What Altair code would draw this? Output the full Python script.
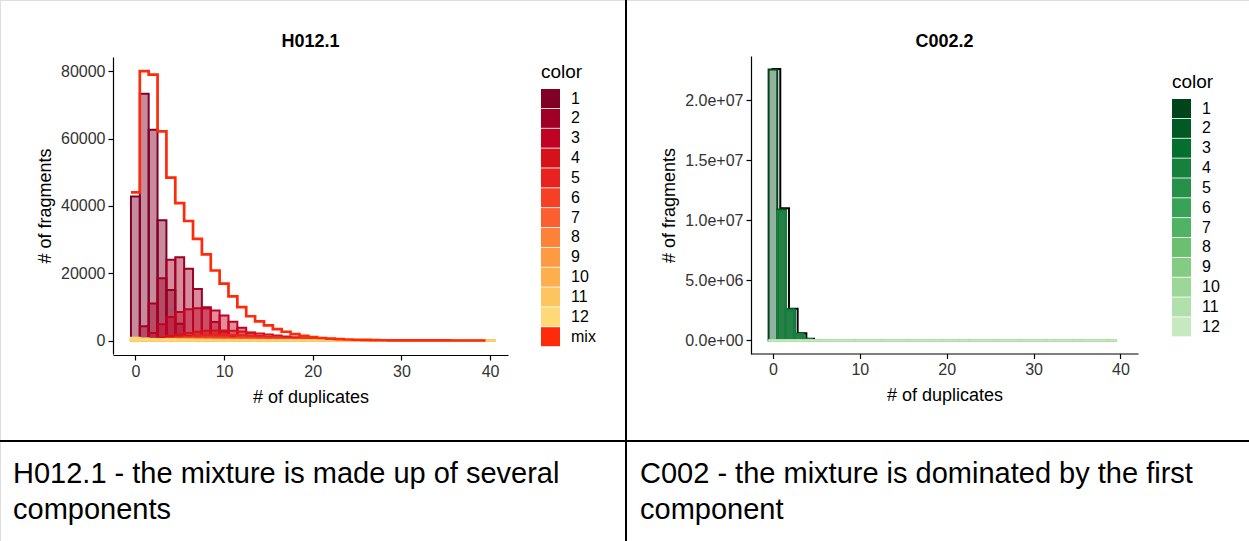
import altair as alt
import pandas as pd

FONT = "Liberation Sans"

# ---------------- data: H012.1 (left panel) ----------------
dup_left = list(range(41))  # # of duplicates, bins 0..40
h_c1 = [42800, 73300, 62600, 35700, 15000, 5000, 1300, 300, 60, 10,
        0, 0, 0, 0, 0, 0, 0, 0, 0, 0, 0, 0, 0, 0, 0, 0, 0, 0, 0, 0,
        0, 0, 0, 0, 0, 0, 0, 0, 0, 0, 0]
h_c2 = [600, 4200, 11000, 18500, 24000, 24700, 21300, 15300, 9900, 5500,
        2700, 1200, 500, 180, 60, 20, 5, 0, 0, 0, 0, 0, 0, 0, 0, 0, 0, 0, 0, 0,
        0, 0, 0, 0, 0, 0, 0, 0, 0, 0, 0]
h_c3 = [100, 600, 2200, 4800, 7000, 8500, 9300, 9600, 9500, 8900,
        7400, 5600, 3800, 2300, 1300, 650, 300, 120, 40, 10, 0, 0, 0, 0, 0, 0, 0, 0, 0, 0,
        0, 0, 0, 0, 0, 0, 0, 0, 0, 0, 0]
h_c4 = [0, 100, 400, 900, 1400, 1800, 2200, 2600, 2900, 3000,
        3000, 2900, 2700, 2400, 2100, 1800, 1500, 1200, 950, 700,
        520, 380, 270, 190, 130, 90, 60, 40, 25, 15, 10, 6, 4, 2, 1, 0, 0, 0, 0, 0, 0]
h_c5 = [0, 50, 200, 450, 700, 950, 1200, 1400, 1550, 1650,
        1700, 1650, 1550, 1400, 1250, 1100, 950, 800, 650, 520,
        400, 300, 220, 160, 110, 75, 50, 30, 20, 12, 7, 4, 2, 1, 0, 0, 0, 0, 0, 0, 0]
h_c6 = [30, 150, 300, 450, 600, 700, 800, 850, 900, 900,
        880, 850, 800, 740, 680, 610, 540, 470, 400, 340,
        280, 230, 180, 140, 110, 80, 60, 45, 30, 20, 14, 9, 6, 4, 2, 1, 0, 0, 0, 0, 0]
h_c7 = [100, 250, 350, 420, 470, 500, 510, 500, 480, 460,
        430, 400, 370, 340, 300, 270, 240, 210, 180, 150,
        125, 100, 80, 62, 48, 36, 27, 20, 14, 10, 7, 5, 3, 2, 1, 0, 0, 0, 0, 0, 0]
h_c8 = [150, 280, 330, 350, 350, 340, 330, 310, 290, 270,
        250, 230, 210, 190, 170, 150, 130, 115, 100, 85,
        72, 60, 50, 41, 33, 27, 21, 17, 13, 10, 8, 6, 4, 3, 2, 1, 1, 0, 0, 0, 0]
h_c9 = [250, 330, 330, 310, 290, 270, 250, 230, 210, 190,
        175, 160, 145, 130, 118, 105, 95, 84, 74, 65,
        57, 50, 43, 37, 32, 27, 23, 19, 16, 13, 11, 9, 7, 6, 5, 4, 3, 2, 2, 1, 1]
h_c10 = [400, 420, 380, 340, 300, 270, 240, 215, 190, 170,
         150, 133, 118, 104, 92, 81, 71, 63, 55, 48,
         42, 37, 32, 28, 24, 21, 18, 16, 14, 12, 10, 9, 8, 7, 6, 5, 4, 4, 3, 3, 2]
h_c11 = [600, 520, 440, 380, 330, 285, 245, 210, 180, 155,
         133, 114, 98, 84, 72, 62, 53, 46, 39, 34,
         29, 25, 21, 18, 16, 14, 12, 10, 9, 8, 7, 6, 5, 4, 4, 3, 3, 3, 2, 2, 2]
h_c12 = [800, 600, 470, 380, 310, 255, 210, 173, 143, 118,
         98, 81, 67, 56, 47, 39, 33, 28, 24, 20,
         17, 15, 13, 11, 10, 9, 8, 7, 6, 5, 5, 4, 4, 3, 3, 3, 2, 2, 2, 2, 2]
h_mix = [44000, 80000, 79000, 62100, 48400, 40800, 35500, 30200, 25600, 20800,
         16900, 13100, 9900, 7200, 5700, 4500, 3400, 2600, 1900, 1400,
         1000, 750, 550, 400, 300, 220, 160, 110, 80, 60,
         45, 33, 25, 18, 13, 10, 7, 5, 4, 3]
h_comps = [h_c1, h_c2, h_c3, h_c4, h_c5, h_c6, h_c7, h_c8, h_c9, h_c10, h_c11, h_c12]

# ---------------- data: C002.2 (right panel) ----------------
dup_right = list(range(40))
Z34 = [0] * 34
c_c1 = [22560000, 10900000, 2600000, 560000, 120000, 30000] + Z34
c_c2 = [0, 10850000, 2580000, 550000, 110000, 20000] + Z34
c_c3 = [0, 10800000, 2550000, 540000, 100000, 20000] + Z34
c_c4 = [0, 10750000, 2500000, 520000, 100000, 20000] + Z34
c_c5 = [0, 20000, 10000, 5000, 0, 0] + Z34
c_c6 = [0, 10000, 5000, 0, 0, 0] + Z34
c_c7 = [0, 0, 0, 0, 0, 0] + Z34
c_c8 = [0, 0, 0, 0, 0, 0] + Z34
c_c9 = [0, 0, 0, 0, 0, 0] + Z34
c_c10 = [0, 0, 0, 0, 0, 0] + Z34
c_c11 = [0, 0, 0, 0, 0, 0] + Z34
c_c12 = [0, 0, 0, 0, 0, 0] + Z34
c_mix = [22600000, 11000000, 2650000, 600000, 150000]
c_comps = [c_c1, c_c2, c_c3, c_c4, c_c5, c_c6, c_c7, c_c8, c_c9, c_c10, c_c11, c_c12]

comp_labels = [str(i) for i in range(1, 13)]
reds = ["#800026", "#a10026", "#c00224", "#d51119", "#e8231f", "#f54026",
        "#fc5f2f", "#fd8239", "#fd9a42", "#feaf4b", "#fec45f", "#fed976"]
mix_red = "#ff2a0a"
greens = ["#00441b", "#005a24", "#03702e", "#16803c", "#289149", "#39a257",
          "#4fb264", "#6bbf71", "#84cc83", "#9dd798", "#b2e0ac", "#c7e9c0"]

left_caption = ["H012.1 - the mixture is made up of several", "components"]
right_caption = ["C002 - the mixture is dominated by the first", "component"]


def long_df(comps, xs):
    rows = []
    for k, vals in enumerate(comps):
        for i, x in enumerate(xs):
            rows.append({"comp": comp_labels[k], "dup": x, "n": vals[i]})
    return pd.DataFrame(rows)


def step_df(vals, label):
    xs = [i - 0.5 for i in range(len(vals))] + [len(vals) - 0.5]
    ys = list(vals) + [vals[-1]]
    return pd.DataFrame({"xs": xs, "n": ys, "comp": label})


h_long = long_df(h_comps, dup_left)
c_long = long_df(c_comps, dup_right)
h_step = step_df(h_mix, "mix")
c_step = step_df(c_mix, "mix")

AX = dict(labelFont=FONT, labelFontSize=16, labelColor="#333333",
          titleFont=FONT, titleFontSize=18, titleFontWeight="normal", titleColor="black",
          domainColor="black", domainWidth=1.2, tickColor="black", tickWidth=1.2,
          tickSize=5, labelPadding=3, grid=False)

# ---------------- left panel ----------------
lx = alt.Scale(domain=[-2.525, 42.025], range=[113, 508], nice=False, zero=False)
ly = alt.Scale(domain=[-4010, 84210], range=[354, 57], nice=False, zero=False)
lcol = alt.Scale(domain=comp_labels + ["mix"], range=reds + [mix_red])
lx_axis = alt.Axis(orient="bottom", offset=-186, values=[0, 10, 20, 30, 40],
                   title="# of duplicates", titlePadding=9, **AX)
ly_axis = alt.Axis(orient="left", offset=-113, values=[0, 20000, 40000, 60000, 80000],
                   format="d", title="# of fragments", titlePadding=6, **AX)
LEG = dict(orient="none", title="color", symbolType="square", symbolSize=361,
           symbolStrokeWidth=0, labelFont=FONT, labelFontSize=16, labelColor="black",
           titleFont=FONT, titleFontSize=19, titleFontWeight="normal", titleColor="black",
           labelOffset=11, rowPadding=0.85, titlePadding=7, symbolOpacity=1)

left_bars = alt.Chart(h_long).transform_calculate(
    x0="datum.dup - 0.5", x1="datum.dup + 0.5"
).mark_bar(fillOpacity=0.45, strokeWidth=2).encode(
    x=alt.X("x0:Q", scale=lx, axis=lx_axis),
    x2="x1:Q",
    y=alt.Y("n:Q", scale=ly, axis=ly_axis),
    y2=alt.datum(0),
    color=alt.Color("comp:N", scale=lcol,
                    legend=alt.Legend(legendX=541, legendY=63, **LEG)),
    stroke=alt.Stroke("comp:N", scale=lcol, legend=None),
)
left_mix = alt.Chart(h_step).mark_line(interpolate="step-after", strokeWidth=2.7).encode(
    x=alt.X("xs:Q", scale=lx, axis=lx_axis),
    y=alt.Y("n:Q", scale=ly, axis=ly_axis),
    color=alt.Color("comp:N", scale=lcol,
                    legend=alt.Legend(legendX=541, legendY=63, **LEG)),
)
left = alt.layer(left_bars, left_mix)

# ---------------- right panel ----------------
rx = alt.Scale(domain=[-2.525, 42.025], range=[751, 1138], nice=False, zero=False)
ry = alt.Scale(domain=[-1128000, 23688000], range=[354, 56], nice=False, zero=False)
rcol = alt.Scale(domain=comp_labels, range=greens)
rx_axis = alt.Axis(orient="bottom", offset=-187.5, values=[0, 10, 20, 30, 40],
                   title="# of duplicates", titlePadding=9, **AX)
ry_axis = alt.Axis(orient="left", offset=-751, values=[0, 5000000, 10000000, 15000000, 20000000],
                   labelExpr="replace(format(datum.value, '.1e'), 'e+', 'e+0')",
                   title="# of fragments", titlePadding=6, **AX)

right_mix = alt.Chart(c_step).mark_line(interpolate="step-after", strokeWidth=2,
                                        color="black", xOffset=3).encode(
    x=alt.X("xs:Q", scale=rx, axis=rx_axis),
    y=alt.Y("n:Q", scale=ry, axis=ry_axis),
)
right_bars = alt.Chart(c_long).transform_calculate(
    x0="datum.dup - 0.5", x1="datum.dup + 0.5"
).mark_bar(fillOpacity=0.42, strokeWidth=2).encode(
    x=alt.X("x0:Q", scale=rx, axis=rx_axis),
    x2="x1:Q",
    y=alt.Y("n:Q", scale=ry, axis=ry_axis),
    y2=alt.datum(0),
    color=alt.Color("comp:N", scale=rcol,
                    legend=alt.Legend(legendX=1172, legendY=73, **LEG)),
    stroke=alt.Stroke("comp:N", scale=rcol, legend=None),
)
right = alt.layer(right_mix, right_bars)

# ---------------- table frame, titles, captions ----------------
one = pd.DataFrame({"k": [0]})
vline = alt.Chart(one).mark_rule(color="black", strokeWidth=2).encode(
    x=alt.value(626), y=alt.value(0), y2=alt.value(541))
hline = alt.Chart(one).mark_rule(color="black", strokeWidth=2).encode(
    x=alt.value(0), x2=alt.value(1249), y=alt.value(441))
title_l = alt.Chart(one).mark_text(font=FONT, fontSize=18, fontWeight="bold",
                                   color="black", baseline="alphabetic").encode(
    x=alt.value(310.5), y=alt.value(47), text=alt.value("H012.1"))
title_r = alt.Chart(one).mark_text(font=FONT, fontSize=18, fontWeight="bold",
                                   color="black", baseline="alphabetic").encode(
    x=alt.value(944.5), y=alt.value(47), text=alt.value("C002.2"))
cap_l = alt.Chart(one).mark_text(font=FONT, fontSize=29, align="left", color="black",
                                 baseline="alphabetic", lineHeight=36).encode(
    x=alt.value(13), y=alt.value(483), text=alt.value(left_caption))
cap_r = alt.Chart(one).mark_text(font=FONT, fontSize=29, align="left", color="black",
                                 baseline="alphabetic", lineHeight=36).encode(
    x=alt.value(640), y=alt.value(483), text=alt.value(right_caption))

chart = alt.layer(left, right, vline, hline, title_l, title_r, cap_l, cap_r).resolve_scale(
    x="independent", y="independent", color="independent", stroke="independent"
).resolve_axis(x="independent", y="independent").resolve_legend(
    color="independent", stroke="independent"
).properties(
    width=1249, height=541, padding=0,
    autosize=alt.AutoSizeParams(type="none"),
    background="white",
).configure_view(stroke="black", strokeWidth=4).configure(font=FONT)

chart.save("out.html", embed_options={"renderer": "svg", "actions": False})
